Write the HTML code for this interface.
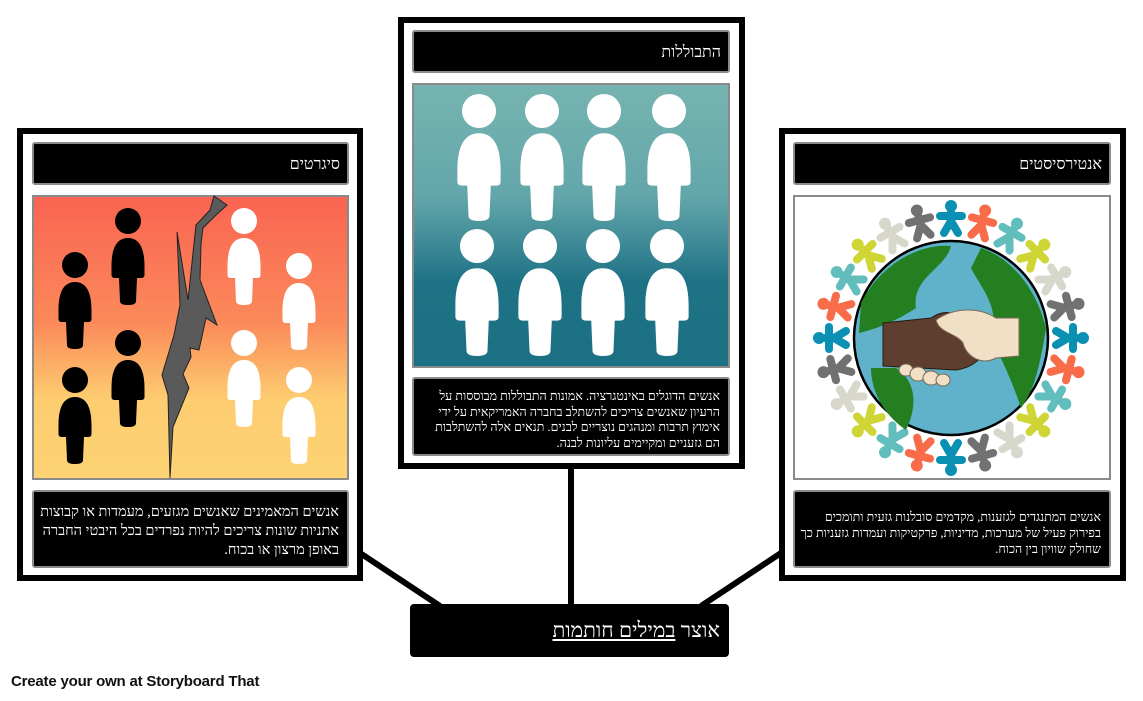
<!DOCTYPE html>
<html><head><meta charset="utf-8"><style>
html,body{margin:0;padding:0;background:#fff;width:1143px;height:701px;overflow:hidden;position:relative;font-family:"Liberation Sans","Noto Sans CJK JP",sans-serif}
.frame{position:absolute;border:6px solid #000;background:#fff;box-sizing:border-box}
.blk{position:absolute;background:#000;border:2px solid #8a8a8a;border-radius:3px;box-sizing:border-box;color:#fff;direction:rtl;text-align:right;font-family:"Liberation Serif","Noto Sans CJK JP",serif}
.title{font-size:16px;line-height:41px;padding-right:7px}
.txt{font-size:13px;line-height:17px;padding:8px 8px 0 8px}
svg{position:absolute;left:0;top:0}
</style></head><body>
<svg width="1143" height="701" style="z-index:0">
<line x1="360" y1="553" x2="440" y2="606" stroke="#000" stroke-width="6"/>
<line x1="571" y1="465" x2="571" y2="606" stroke="#000" stroke-width="6"/>
<line x1="781" y1="553" x2="701" y2="606" stroke="#000" stroke-width="6"/>
</svg>

<div class="frame" style="left:17px;top:128px;width:346px;height:453px"></div>
<div class="frame" style="left:398px;top:17px;width:347px;height:452px"></div>
<div class="frame" style="left:779px;top:128px;width:347px;height:453px"></div>

<div class="blk title" style="left:32px;top:142px;width:317px;height:43px">סיגרטים</div>
<div class="blk title" style="left:412px;top:30px;width:318px;height:43px">התבוללות</div>
<div class="blk title" style="left:793px;top:142px;width:318px;height:43px">אנטירסיסטים</div>

<div class="blk txt" style="left:32px;top:490px;width:317px;height:78px;font-size:14.5px;line-height:19px;padding-top:11px;padding-left:4px">אנשים המאמינים שאנשים מגזעים, מעמדות או קבוצות אתניות שונות צריכים להיות נפרדים בכל היבטי החברה באופן מרצון או בכוח.</div>
<div class="blk txt" style="left:412px;top:377px;width:318px;height:79px;font-size:12.5px;line-height:15.5px;padding-top:10px;padding-left:4px">אנשים הדוגלים באינטגרציה. אמונות התבוללות מבוססות על הרעיון שאנשים צריכים להשתלב בחברה האמריקאית על ידי אימוץ תרבות ומנהגים נוצריים לבנים. תנאים אלה להשתלבות הם גזעניים ומקיימים עליונות לבנה.</div>
<div class="blk txt" style="left:793px;top:490px;width:318px;height:78px;font-size:12.5px;line-height:16px;padding-top:17px;padding-left:4px">אנשים המתנגדים לגזענות, מקדמים סובלנות גזעית ותומכים בפירוק פעיל של מערכות, מדיניות, פרקטיקות ועמדות גזעניות כך שחולק שוויון בין הכוח.</div>

<div style="position:absolute;left:410px;top:604px;width:319px;height:53px;background:#000;border-radius:4px;color:#fff;direction:rtl;text-align:right;font-family:'Liberation Serif','Noto Sans CJK JP',serif;font-size:21px;line-height:53px;padding-right:9px;box-sizing:border-box">אוצר <u>במילים חותמות</u></div>

<div style="position:absolute;left:11px;top:673px;font-size:15px;font-weight:bold;color:#111;font-family:'Liberation Sans',sans-serif;letter-spacing:-0.2px">Create your own at Storyboard That</div>

<svg width="1143" height="701" style="z-index:2">
<defs>
<linearGradient id="g1" x1="0" y1="0" x2="0" y2="1"><stop offset="0" stop-color="#fa6452"/><stop offset="0.45" stop-color="#fb8a5a"/><stop offset="0.72" stop-color="#fdcd70"/><stop offset="1" stop-color="#fdd374"/></linearGradient>
<linearGradient id="g2" x1="0" y1="0" x2="0" y2="1"><stop offset="0" stop-color="#76b4b1"/><stop offset="0.4" stop-color="#63a6aa"/><stop offset="0.7" stop-color="#1e7285"/><stop offset="1" stop-color="#1c7083"/></linearGradient>
<symbol id="pp" overflow="visible"><circle cx="0" cy="0" r="13"/><path d="M-16.5,45 C-16.5,25 -10,17 0,17 C10,17 16.5,25 16.5,45 L16.5,54 Q16.5,57 13,57 L9,57 L8,80 Q8,84 0,84 Q-8,84 -8,80 L-9,57 L-13,57 Q-16.5,57 -16.5,54 Z"/></symbol>
<symbol id="rp" overflow="visible"><g stroke-linecap="round" fill="none" stroke-width="8"><line x1="0" y1="-6" x2="0" y2="4"/><line x1="-11" y1="-2" x2="11" y2="-2"/><line x1="0" y1="3" x2="-7" y2="15"/><line x1="0" y1="3" x2="7" y2="15"/></g><circle cx="0" cy="-12" r="6" stroke="none"/></symbol>
</defs>
<rect x="33" y="196" width="315" height="283" fill="url(#g1)" stroke="#8a8a8a" stroke-width="2"/>
<g fill="#000"><use href="#pp" x="75" y="265"/><use href="#pp" x="128" y="221"/><use href="#pp" x="128" y="343"/><use href="#pp" x="75" y="380"/></g>
<g fill="#fff"><use href="#pp" x="244" y="221"/><use href="#pp" x="299" y="266"/><use href="#pp" x="244" y="343"/><use href="#pp" x="299" y="380"/></g>
<polygon points="214,196 227,205 215,216 203,228 201,244 200,280 217,325 206,318 199,350 190,348 191,357 183,374 189,388 173,427 170,478 168,395 162,375 174,335 180,305 177,232 188,300 196,225 210,210" fill="#5a5a5a" stroke="#222" stroke-width="1"/>
<rect x="413" y="84" width="316" height="283" fill="url(#g2)" stroke="#8a8a8a" stroke-width="2"/>
<g fill="#fff">
<use href="#pp" transform="translate(479,111) scale(1.31)"/><use href="#pp" transform="translate(542,111) scale(1.31)"/><use href="#pp" transform="translate(604,111) scale(1.31)"/><use href="#pp" transform="translate(669,111) scale(1.31)"/>
<use href="#pp" transform="translate(477,246) scale(1.31)"/><use href="#pp" transform="translate(540,246) scale(1.31)"/><use href="#pp" transform="translate(603,246) scale(1.31)"/><use href="#pp" transform="translate(667,246) scale(1.31)"/>
</g>
<rect x="794" y="196" width="316" height="283" fill="#fff" stroke="#8a8a8a" stroke-width="2"/>
<g transform="translate(951,338)">
<g fill="#0a90b3" stroke="#0a90b3"><use href="#rp" transform="rotate(0) translate(0,-120)"/><use href="#rp" transform="rotate(90) translate(0,-120)"/><use href="#rp" transform="rotate(180) translate(0,-120)"/><use href="#rp" transform="rotate(270) translate(0,-120)"/></g>
<g fill="#f86c4a" stroke="#f86c4a"><use href="#rp" transform="rotate(15) translate(0,-120)"/><use href="#rp" transform="rotate(105) translate(0,-120)"/><use href="#rp" transform="rotate(195) translate(0,-120)"/><use href="#rp" transform="rotate(285) translate(0,-120)"/></g>
<g fill="#62bdbd" stroke="#62bdbd"><use href="#rp" transform="rotate(30) translate(0,-120)"/><use href="#rp" transform="rotate(120) translate(0,-120)"/><use href="#rp" transform="rotate(210) translate(0,-120)"/><use href="#rp" transform="rotate(300) translate(0,-120)"/></g>
<g fill="#cfd534" stroke="#cfd534"><use href="#rp" transform="rotate(45) translate(0,-120)"/><use href="#rp" transform="rotate(135) translate(0,-120)"/><use href="#rp" transform="rotate(225) translate(0,-120)"/><use href="#rp" transform="rotate(315) translate(0,-120)"/></g>
<g fill="#d8d7cc" stroke="#d8d7cc"><use href="#rp" transform="rotate(60) translate(0,-120)"/><use href="#rp" transform="rotate(150) translate(0,-120)"/><use href="#rp" transform="rotate(240) translate(0,-120)"/><use href="#rp" transform="rotate(330) translate(0,-120)"/></g>
<g fill="#717171" stroke="#717171"><use href="#rp" transform="rotate(75) translate(0,-120)"/><use href="#rp" transform="rotate(165) translate(0,-120)"/><use href="#rp" transform="rotate(255) translate(0,-120)"/><use href="#rp" transform="rotate(345) translate(0,-120)"/></g>
<circle r="97" fill="#5fb2c9" stroke="#000" stroke-width="2.5"/>
<path d="M-90,-35 C-70,-75 -30,-95 0,-92 C-5,-70 -40,-60 -35,-30 C-50,-20 -70,-10 -92,-5 Z" fill="#237f20"/>
<path d="M30,-90 C60,-80 85,-50 95,-10 C90,20 85,50 70,70 C60,40 50,20 40,0 C50,-30 30,-50 20,-70 Z" fill="#237f20"/>
<path d="M-55,30 C-40,40 -30,60 -45,92 C-70,75 -80,50 -80,30 Z" fill="#237f20"/>
<path d="M-68,-15 L-20,-20 C-5,-30 5,-25 15,-15 L35,5 C35,20 20,30 5,32 L-68,28 Z" fill="#5e3f2f" stroke="#2a1a10" stroke-width="1"/>
<path d="M-15,-18 C5,-32 30,-30 45,-20 L68,-20 L68,18 L45,20 C30,28 15,18 12,5 C5,-5 -12,-5 -15,-18 Z" fill="#f1dfc6" stroke="#7a6a55" stroke-width="1"/>
<g fill="#f1dfc6" stroke="#7a6a55" stroke-width="1"><ellipse cx="-45" cy="32" rx="7" ry="6"/><ellipse cx="-33" cy="36" rx="8" ry="7"/><ellipse cx="-20" cy="40" rx="8" ry="7"/><ellipse cx="-8" cy="42" rx="7" ry="6"/></g>
</g>
</svg>
</body></html>
